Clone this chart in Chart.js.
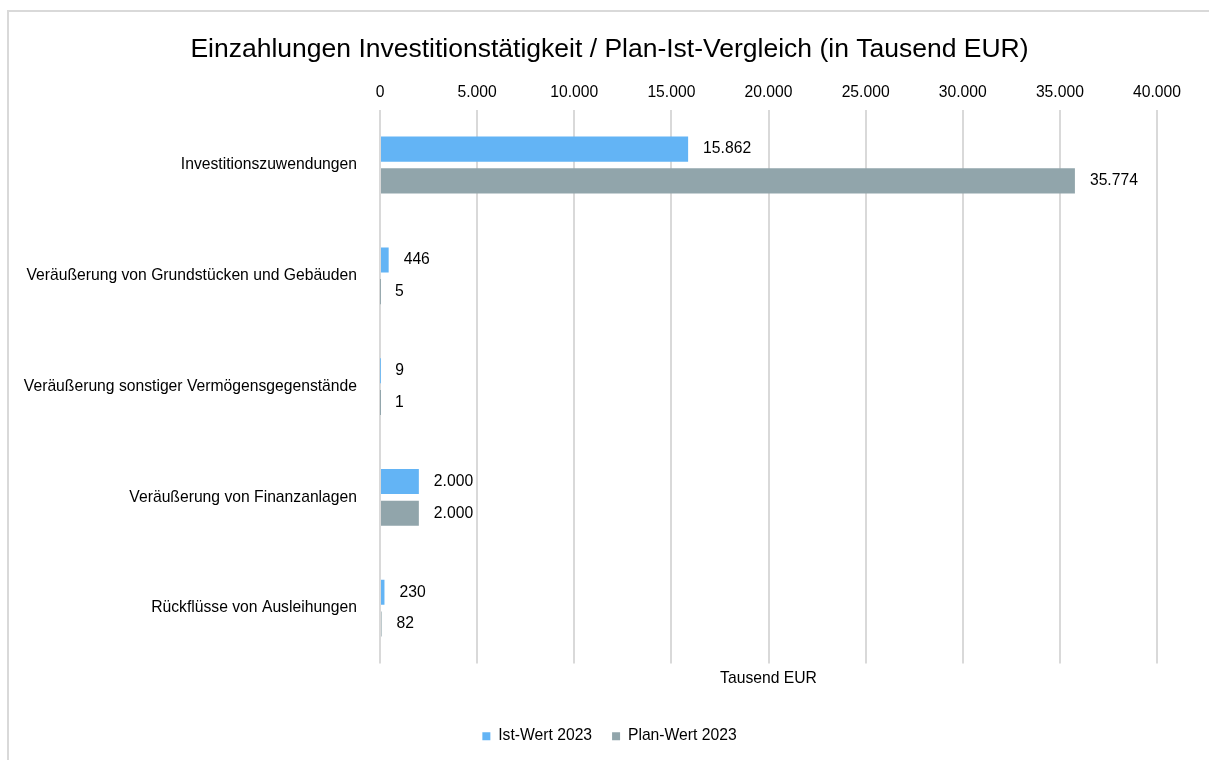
<!DOCTYPE html>
<html>
<head>
<meta charset="utf-8">
<script src="https://cdn.jsdelivr.net/npm/chart.js@4"></script>
<style>
  html, body { margin: 0; padding: 0; background: #fff; }
  #wrap { width: 1209px; height: 760px; position: relative; }
</style>
</head>
<body>
<div id="wrap"><canvas id="canvas1"></canvas></div>
<script>
"use strict";

const categories = [
    "Investitionszuwendungen",
    "Veräußerung von Grundstücken und Gebäuden",
    "Veräußerung sonstiger Vermögensgegenstände",
    "Veräußerung von Finanzanlagen",
    "Rückflüsse von Ausleihungen"
];
const istWerte = [15862, 446, 9, 2000, 230];
const planWerte = [35774, 5, 1, 2000, 82];
const seriesNames = ["Ist-Wert 2023", "Plan-Wert 2023"];
const axisMin = 0;
const axisMax = 40000;
const axisStep = 5000;

const FONT = "'Liberation Sans', Arial, sans-serif";
const FS = 15.7;

// 12345 -> "12.345"
function fmt(v)
{
    return String(Math.round(v)).replace(/\B(?=(\d{3})+(?!\d))/g, ".");
}

// value labels next to the bars
const valueLabels = {
    id: "valueLabels",
    afterDatasetsDraw(chart)
    {
        let ctx = chart.ctx;
        ctx.save();
        ctx.font = FS + "px " + FONT;
        ctx.fillStyle = "#000";
        ctx.textBaseline = "middle";
        ctx.textAlign = "left";
        chart.data.datasets.forEach((ds, i) => {
            let meta = chart.getDatasetMeta(i);
            meta.data.forEach((bar, j) => {
                ctx.fillText(fmt(ds.data[j]), bar.x + 15, bar.y);
            });
        });
        ctx.restore();
    }
};

// light frame round the chart
const frame = {
    id: "frame",
    beforeDraw(chart)
    {
        let ctx = chart.ctx;
        ctx.save();
        ctx.fillStyle = "#fff";
        ctx.fillRect(0, 0, chart.width, chart.height);
        ctx.strokeStyle = "#d9d9d9";
        ctx.lineWidth = 2;
        ctx.strokeRect(8, 11, chart.width + 10, chart.height + 10);
        ctx.restore();
    }
};

let canvas1 = document.querySelector("#canvas1");

let opts = {
    type: "bar",
    data: {
        labels: categories,
        datasets: [
            { label: seriesNames[0], data: istWerte, backgroundColor: "#63b4f5" },
            { label: seriesNames[1], data: planWerte, backgroundColor: "#91a5ab" }
        ]
    },
    options: {
        indexAxis: "y",
        responsive: true,
        maintainAspectRatio: false,
        animation: false,
        categoryPercentage: 0.573,
        barPercentage: 0.79,
        // right padding < 0 so that title and legend sit a bit right of centre
        layout: { padding: { left: 2, right: -8, top: 34, bottom: 6 } },
        scales: {
            x: {
                position: "top",
                min: axisMin,
                max: axisMax,
                ticks: {
                    stepSize: axisStep,
                    color: "#000",
                    font: { family: FONT, size: FS },
                    padding: 8,
                    callback: v => fmt(v)
                },
                grid: { color: "#d9d9d9", lineWidth: 2, drawTicks: false },
                border: { display: false }
            },
            x2: {
                type: "linear",
                position: "bottom",
                min: axisMin,
                max: axisMax,
                ticks: { display: false },
                grid: { display: false, drawTicks: false },
                border: { display: false },
                title: {
                    display: true,
                    text: "Tausend EUR",
                    color: "#000",
                    font: { family: FONT, size: FS },
                    padding: { top: 6, bottom: 20 }
                }
            },
            y: {
                ticks: {
                    color: "#000",
                    font: { family: FONT, size: FS },
                    padding: 23
                },
                grid: { display: false, drawTicks: false },
                border: { display: false },
                afterFit: s => { s.width = 378; }
            },
            // empty spacer on the right
            yR: {
                type: "linear",
                position: "right",
                ticks: { display: false },
                grid: { display: false, drawTicks: false },
                border: { display: false },
                afterFit: s => { s.width = 60; }
            }
        },
        plugins: {
            title: {
                display: true,
                text: "Einzahlungen Investitionstätigkeit / Plan-Ist-Vergleich (in Tausend EUR)",
                color: "#000",
                font: { family: FONT, size: 26.5, weight: "normal" },
                padding: { top: 0, bottom: 9 }
            },
            legend: {
                position: "bottom",
                labels: {
                    boxWidth: 8,
                    boxHeight: 8,
                    padding: 20,
                    color: "#000",
                    font: { family: FONT, size: FS }
                }
            },
            tooltip: { enabled: false }
        }
    },
    plugins: [frame, valueLabels]
};

let c1 = new Chart(canvas1, opts);
</script>
</body>
</html>
